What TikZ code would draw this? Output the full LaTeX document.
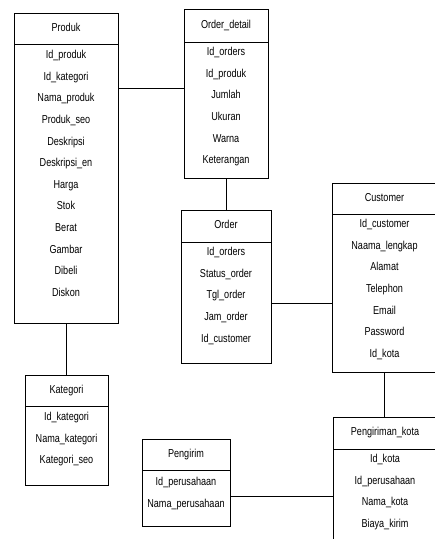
\documentclass[tikz,border=0pt]{standalone}
\usepackage{fontspec}
\setmainfont[FakeStretch=0.79]{Liberation Sans}
\tikzset{
  ebox/.style={draw=black, line width=0.9pt, anchor=north west, inner sep=0pt, outer sep=0pt},
  etext/.style={font=\fontsize{11.5}{13}\selectfont, inner sep=0pt, text height=8.2pt, text depth=2.4pt, anchor=center},
  conn/.style={draw=black, line width=0.9pt}
}
\newcommand{\erentity}[9]{%
  \node[ebox, minimum width={(#4-#2)*1pt}, minimum height={(#5-#3)*1pt}] (#1) at (#2,#3) {};
  \draw[conn] ([yshift={-(#6-#3)*1pt}]#1.north west) -- ([yshift={-(#6-#3)*1pt}]#1.north east);
  \node[etext] (#1-t) at ({(#2+#4)/2},{(#3+#6)/2}) {#7};
  \foreach \t [count=\i] in {#9} {
    \node[etext] (#1-\i) at ({(#2+#4)/2},{#8+(\i-1)*21.65}) {\t};
  }%
}
\begin{document}
\begin{tikzpicture}[x=1pt,y=-1pt]
\useasboundingbox (0,0) rectangle (435,539);
\clip (0,0) rectangle (435,539);
\erentity{produk}{14}{13}{118}{323}{44}{Produk}{55.5}{Id\_produk,Id\_kategori,Nama\_produk,Produk\_seo,Deskripsi,Deskripsi\_en,Harga,Stok,Berat,Gambar,Dibeli,Diskon}
\erentity{orderdetail}{184}{9}{268}{178}{42}{Order\_detail}{52.5}{Id\_orders,Id\_produk,Jumlah,Ukuran,Warna,Keterangan}
\erentity{order}{181}{210}{271}{363}{242}{Order}{252.5}{Id\_orders,Status\_order,Tgl\_order,Jam\_order,Id\_customer}
\erentity{customer}{332}{183}{437}{372}{214}{Customer}{224.5}{Id\_customer,Naama\_lengkap,Alamat,Telephon,Email,Password,Id\_kota}
\erentity{kategori}{25}{375}{108}{485}{406}{Kategori}{417.5}{Id\_kategori,Nama\_kategori,Kategori\_seo}
\erentity{pengirim}{142}{439}{230}{526}{470}{Pengirim}{482.5}{Id\_perusahaan,Nama\_perusahaan}
\erentity{pengirimankota}{333}{417}{437}{548}{449}{Pengiriman\_kota}{459.5}{Id\_kota,Id\_perusahaan,Nama\_kota,Biaya\_kirim}
\coordinate (c1) at (0,88);
\coordinate (c2) at (0,303);
\coordinate (c3) at (0,496);
\draw[conn] (produk.east |- c1) -- (orderdetail.west |- c1);
\draw[conn] (orderdetail.south) -- (orderdetail.south |- order.north);
\draw[conn] (order.east |- c2) -- (customer.west |- c2);
\draw[conn] (produk.south) -- (produk.south |- kategori.north);
\draw[conn] (customer.south) -- (customer.south |- pengirimankota.north);
\draw[conn] (pengirim.east |- c3) -- (pengirimankota.west |- c3);
\end{tikzpicture}
\end{document}
